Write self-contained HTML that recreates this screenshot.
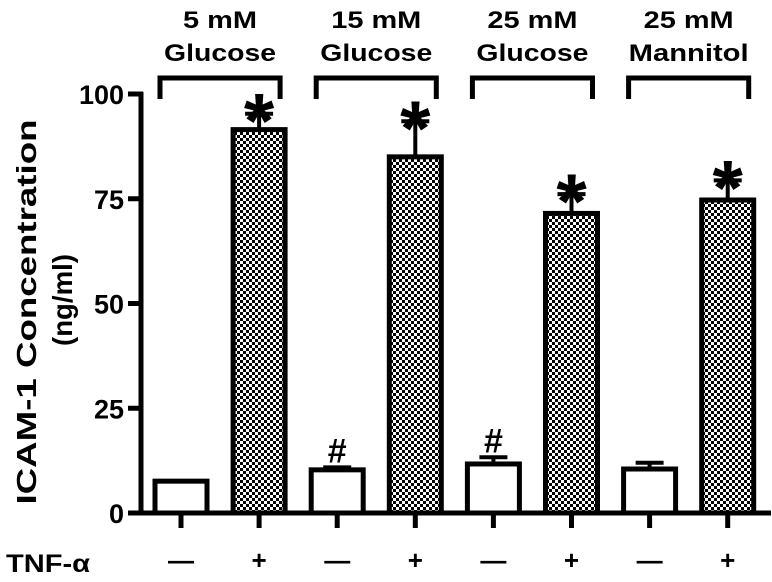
<!DOCTYPE html>
<html><head><meta charset="utf-8"><style>
body{margin:0;background:#fff}
text{font-family:"Liberation Sans",Arial,sans-serif;font-weight:bold;fill:#000}
</style></head><body>
<svg id="chart" width="772" height="577" viewBox="0 0 772 577" xmlns="http://www.w3.org/2000/svg">
<defs>
<pattern id="chk" width="6" height="6" patternUnits="userSpaceOnUse">
<rect width="6" height="6" fill="#fff"/><rect width="3" height="3" fill="#000"/><rect x="3" y="3" width="3" height="3" fill="#000"/>
</pattern>
</defs>
<g id="g"></g>
</svg>
<script>
const categories=["5 mM Glucose -","5 mM Glucose +","15 mM Glucose -","15 mM Glucose +","25 mM Glucose -","25 mM Glucose +","25 mM Mannitol -","25 mM Mannitol +"];
const values=[7.6,91.5,10.3,85,11.7,71.5,10.5,74.7];
const errors=[0,3.8,0.6,8.5,1.6,4.6,1.5,4.7];
const tnf=["—","+","—","+","—","+","—","+"];
const marks=["","*","#","*","#","*","","*"];
const groups1=["5 mM","15 mM","25 mM","25 mM"];
const groups2=["Glucose","Glucose","Glucose","Mannitol"];
const yTicks=[0,25,50,75,100];
const NS="http://www.w3.org/2000/svg";
const g=document.getElementById('g');
const y0=513,yScale=4.19;
function y(v){return y0-v*yScale;}
function x(i){return 181+i*78.1;}
const bw=52;
function el(t,a,txt){const e=document.createElementNS(NS,t);for(const k in a)e.setAttribute(k,a[k]);if(txt!==undefined)e.textContent=txt;g.appendChild(e);return e;}
let ax=el('line',{x1:141,y1:y(100)-2,x2:141,y2:y0+2,stroke:'#000','stroke-width':5});


let xa=el('line',{x1:139,y1:y0,x2:771,y2:y0,stroke:'#000','stroke-width':5});


yTicks.forEach(t=>{
 let l=el('line',{x1:128,y1:y(t),x2:143,y2:y(t),stroke:'#000','stroke-width':5});
 
 
 let tx=el('text',{x:124,y:y(t)+10,'text-anchor':'end','font-size':27},String(t));
 
 
});
values.forEach((v,i)=>{
 const cx=x(i);
 if(errors[i]>0){
  let e1=el('line',{x1:cx,y1:y(v),x2:cx,y2:y(v+errors[i]),stroke:'#000','stroke-width':4});
  
  
  let e2=el('line',{x1:cx-14,y1:y(v+errors[i]),x2:cx+14,y2:y(v+errors[i]),stroke:'#000','stroke-width':4});
  
  
 }
 let r=el('rect',{x:cx-bw/2,y:y(v),width:bw,height:y0-y(v),fill:i%2?'url(#chk)':'#fff',stroke:'#000','stroke-width':5});
 
 
 let tk=el('line',{x1:cx,y1:y0,x2:cx,y2:y0+15,stroke:'#000','stroke-width':5});
 
 
 let s=el('text',{x:cx,y:569,'text-anchor':'middle','font-size':26,'font-weight':'normal'},tnf[i]);
 
 
 if(marks[i]){
  const big=marks[i]=='*';
  let m=el('text',{x:cx,y:y(values[i]+errors[i])+(big?34:-5),'text-anchor':'middle','font-size':big?78:34},marks[i]);
  
  
 }
});
groups1.forEach((t,j)=>{
 const a=x(2*j)-21,b=x(2*j+1)+21,c=(a+b)/2;
 let p=el('path',{d:`M${a},99 V78 H${b} V99`,fill:'none',stroke:'#000','stroke-width':5});
 
 
 let t1=el('text',{x:c,y:28,'text-anchor':'middle','font-size':24,textLength:t.length==4?74:90,lengthAdjust:'spacingAndGlyphs'},t);
 
 
 let t2=el('text',{x:c,y:61,'text-anchor':'middle','font-size':24,textLength:groups2[j]=='Glucose'?112:120,lengthAdjust:'spacingAndGlyphs'},groups2[j]);
 
 
});
let yl=el('text',{x:0,y:0,'text-anchor':'middle','font-size':28,textLength:385,lengthAdjust:'spacingAndGlyphs',transform:'translate(36,312) rotate(-90)'},'ICAM-1 Concentration');


let yl2=el('text',{x:0,y:0,'text-anchor':'middle','font-size':28,textLength:92,lengthAdjust:'spacingAndGlyphs',transform:'translate(72,300) rotate(-90)'},'(ng/ml)');


let tn=el('text',{x:6,y:572,'font-size':25,textLength:84,lengthAdjust:'spacingAndGlyphs'},'TNF-α');


</script>
</body></html>
